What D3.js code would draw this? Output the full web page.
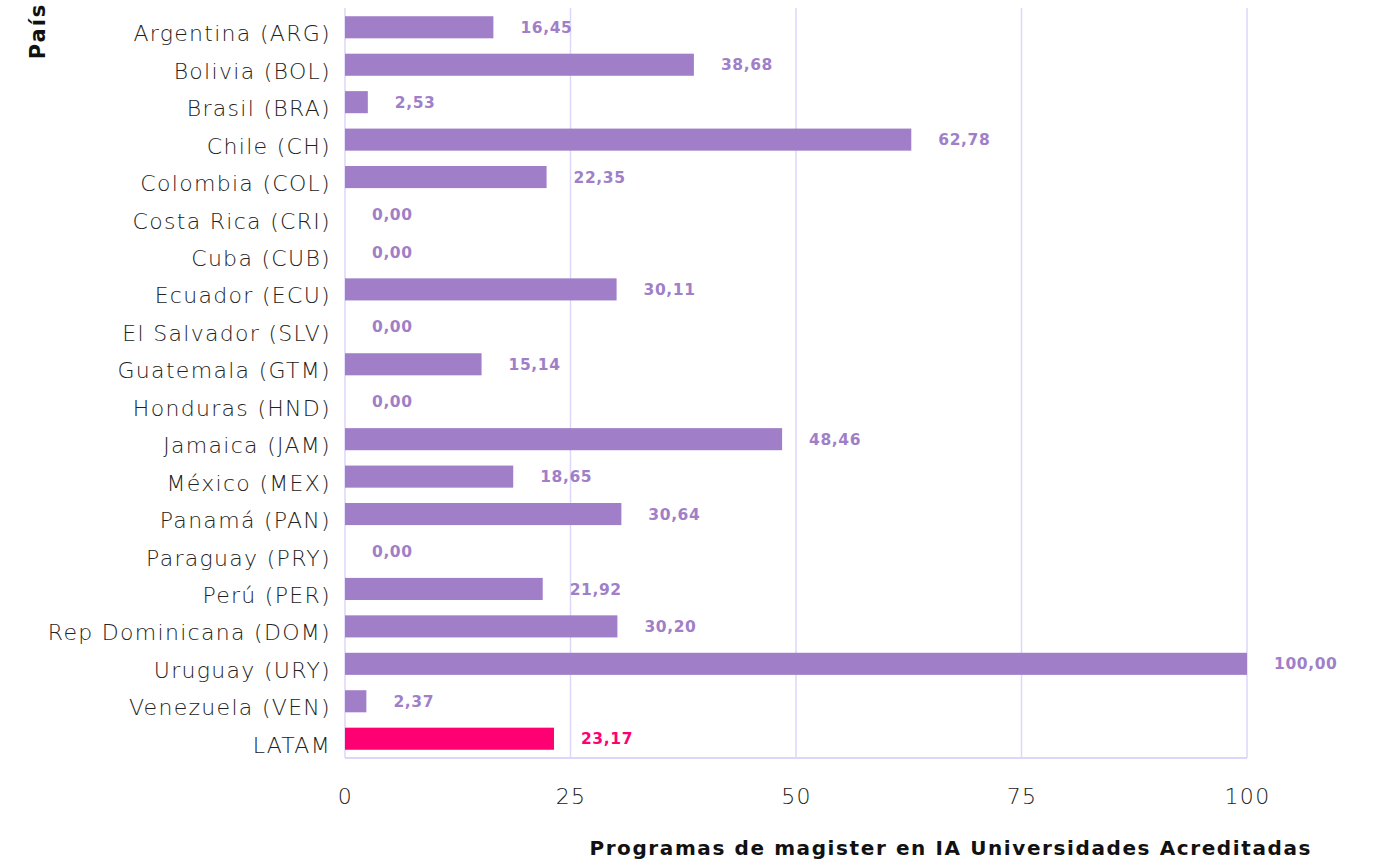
<!DOCTYPE html>
<html><head><meta charset="utf-8">
<script src="https://cdn.jsdelivr.net/npm/d3@7"></script>
<style>body{margin:0;background:#fff}</style>
</head><body>
<svg id="c" width="1375" height="865"></svg>
<script>
const categories = ["Argentina (ARG)","Bolivia (BOL)","Brasil (BRA)","Chile (CH)","Colombia (COL)","Costa Rica (CRI)","Cuba (CUB)","Ecuador (ECU)","El Salvador (SLV)","Guatemala (GTM)","Honduras (HND)","Jamaica (JAM)","México (MEX)","Panamá (PAN)","Paraguay (PRY)","Perú (PER)","Rep Dominicana (DOM)","Uruguay (URY)","Venezuela (VEN)","LATAM"];
const values = [16.45,38.68,2.53,62.78,22.35,0,0,30.11,0,15.14,0,48.46,18.65,30.64,0,21.92,30.20,100,2.37,23.17];
const xTicks = [0,25,50,75,100];
const xTitle = "Programas de magister en IA Universidades Acreditadas";
const yTitle = "País";

const svg = d3.select("#c");
const L=345,R=1247,T=8,B=758;
const x = d3.scaleLinear().domain([0,100]).range([L,R]);
const y = d3.scaleBand().domain(categories).range([T,B]).paddingInner(0.41).paddingOuter(0.22);
const grid="#ddd6fb", font="'DejaVu Sans', sans-serif";

svg.append("g").selectAll("line").data(xTicks).join("line")
  .attr("x1",d=>x(d)).attr("x2",d=>x(d)).attr("y1",T).attr("y2",B)
  .attr("stroke",grid).attr("stroke-width",1.5);
svg.append("line").attr("x1",L).attr("x2",R).attr("y1",B).attr("y2",B).attr("stroke",grid).attr("stroke-width",2);

svg.append("g").selectAll("rect").data(categories).join("rect")
  .attr("x",x(0)).attr("y",d=>y(d)).attr("height",y.bandwidth())
  .attr("width",(d,i)=>x(values[i])-x(0))
  .attr("fill",d=>d==="LATAM"?"#ff0073":"#a07fc8");

svg.append("g").selectAll("text").data(categories).join("text")
  .attr("x",(d,i)=>x(values[i])+27).attr("y",d=>y(d)+y.bandwidth()/2).attr("dy","0.36em")
  .attr("font-family",font).attr("font-weight",700).attr("font-size",15.5).attr("letter-spacing",0.6)
  .attr("fill",d=>d==="LATAM"?"#ff0073":"#a07fc8")
  .text((d,i)=>values[i].toFixed(2).replace(".",","));

const ya = svg.append("g").attr("transform",`translate(${L},0)`).call(d3.axisLeft(y).tickSize(0).tickPadding(14));
ya.select(".domain").remove();
ya.selectAll("text").attr("font-family",font).attr("font-size",22).attr("font-weight",200).attr("letter-spacing",1.3).attr("fill","#222").attr("y",7);

const xa = svg.append("g").attr("transform",`translate(0,${B})`).call(d3.axisBottom(x).tickValues(xTicks).tickSize(0).tickPadding(30).tickFormat(d3.format("d")));
xa.select(".domain").remove();
xa.selectAll("text").attr("font-family",font).attr("font-size",22).attr("font-weight",200).attr("letter-spacing",1.3).attr("fill","#222");

svg.append("text").attr("x",1312).attr("y",855).attr("text-anchor","end")
  .attr("font-family",font).attr("font-weight",700).attr("font-size",20).attr("letter-spacing",1.6).attr("fill","#111").text(xTitle);
svg.append("text").attr("transform","translate(45,0) rotate(-90)").attr("x",-31).attr("text-anchor","middle")
  .attr("font-family",font).attr("font-weight",700).attr("font-size",21).attr("letter-spacing",2).attr("fill","#111").text(yTitle);
</script>
</body></html>
